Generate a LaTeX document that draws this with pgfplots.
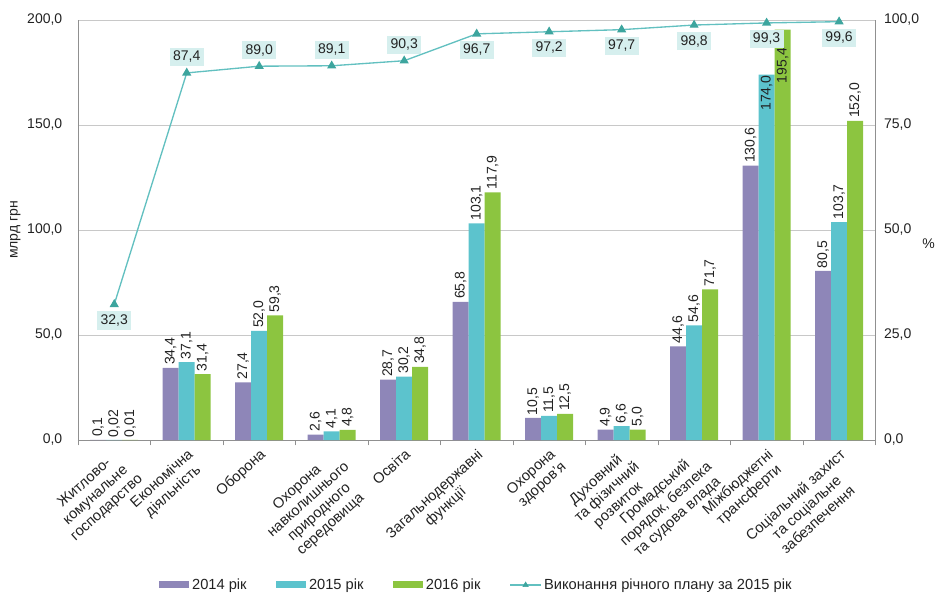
\documentclass[border=0pt]{standalone}
\usepackage{fontspec}
\setmainfont{Liberation Sans}
\usepackage{pgfplots}
\usepackage{pgfplotstable}
\pgfplotsset{compat=1.18}

\definecolor{cA}{HTML}{8E86B8}
\definecolor{cB}{HTML}{5CC3CD}
\definecolor{cC}{HTML}{8CC540}
\definecolor{cL}{HTML}{62C0C0}
\definecolor{cM}{HTML}{3DA59E}
\definecolor{cBox}{HTML}{D6EFEE}
\definecolor{gridc}{HTML}{C8C8C8}
\definecolor{axc}{HTML}{909090}
\definecolor{txt}{HTML}{222222}
\newcommand{\inl}[1]{\llap{#1\hspace{3pt}}}
\newcommand{\inlb}[1]{\llap{#1\hspace{16pt}}}

\pgfplotstableread{
x y lab
0 0.1 0,1
1 34.4 34,4
2 27.4 27,4
3 2.6 2,6
4 28.7 28,7
5 65.8 65,8
6 10.5 10,5
7 4.9 4,9
8 44.6 44,6
9 130.6 130,6
10 80.5 80,5
}\tA
\pgfplotstableread{
x y lab
0 0.02 0,02
1 37.1 37,1
2 52.0 52,0
3 4.1 4,1
4 30.2 30,2
5 103.1 103,1
6 11.5 11,5
7 6.6 6,6
8 54.6 54,6
9 174.0 \inl{174,0}
10 103.7 103,7
}\tB
\pgfplotstableread{
x y lab
0 0.01 0,01
1 31.4 31,4
2 59.3 59,3
3 4.8 4,8
4 34.8 34,8
5 117.9 117,9
6 12.5 12,5
7 5.0 5,0
8 71.7 71,7
9 195.4 \inlb{195,4}
10 152.0 152,0
}\tC
\pgfplotstableread{
x y
0 32.3
1 87.4
2 89.0
3 89.1
4 90.3
5 96.7
6 97.2
7 97.7
8 98.8
9 99.3
10 99.6
}\tL
\pgfplotstableread{
x y lab
1 87.4 87,4
2 89.0 89,0
3 89.1 89,1
4 90.3 90,3
}\tLup
\pgfplotstableread{
x y lab
0 32.3 32,3
5 96.7 96,7
6 97.2 97,2
7 97.7 97,7
8 98.8 98,8
9 99.3 99,3
10 99.6 99,6
}\tLdn

\pgfplotsset{
  common/.style={
    scale only axis, width=598pt, height=315pt,
    at={(0,0)}, anchor=south west,
    xmin=-0.5, xmax=10.5,
    tick label style={font=\fontsize{10.5}{12}\selectfont, text=txt},
    /pgf/number format/.cd, fixed, fixed zerofill, precision=1, use comma, assume math mode=true,
  },
  barlab/.style={
    point meta=explicit symbolic,
    nodes near coords,
    every node near coord/.append style={rotate=90, anchor=west, font=\fontsize{10.5}{12}\selectfont, text=txt, inner sep=2pt},
  },
  linelab/.style={
    draw=none, mark=none, forget plot,
    point meta=explicit symbolic, nodes near coords,
    every node near coord/.append style={anchor=#1, fill=cBox, inner sep=2.5pt, font=\fontsize{10.5}{12}\selectfont, text=txt},
  },
}

\begin{document}
\begin{tikzpicture}
\useasboundingbox (-58.5pt,-117pt) rectangle (645pt,330pt);
\begin{axis}[common,
  ybar=0pt, bar width=12pt,
  ymin=0, ymax=200, ytick={0,50,100,150,200},
  axis x line*=bottom, axis y line*=left,
  axis line style={axc},
  ymajorgrids, grid style={gridc},
  ytick style={draw=none},
  yticklabel style={xshift=-4pt},
  xtick={0,...,10}, xtick style={draw=none},
  minor xtick={-0.5,0.5,...,10.5},
  minor x tick style={draw=axc},
  minor tick length=4pt, tick align=outside,
  xticklabels={{Житлово-\\комунальне\\господарство},{Економічна\\діяльність},{Оборона},{Охорона\\навколишнього\\природного\\середовища},{Освіта},{Загальнодержавні\\функції},{Охорона\\здоров'я},{Духовний\\та фізичний\\розвиток},{Громадський\\порядок, безпека\\та судова влада},{Міжбюджетні\\трансферти},{Соціальний захист\\та соціальне\\забезпечення}},
  xticklabel style={rotate=42, anchor=north east, align=center, font=\fontsize{11}{12.5}\selectfont, inner sep=1pt},
  ylabel={млрд грн},
  ylabel style={at={(axis description cs:0,0.5)}, anchor=center, yshift=47pt, font=\fontsize{10.5}{12}\selectfont, text=txt},
  legend style={at={(0.5,-0.345)}, anchor=center, draw=none, legend columns=-1,
    font=\fontsize{11}{12}\selectfont, text=txt,
    /tikz/every even column/.append style={column sep=20pt}},
  legend image code/.code={\fill[#1] (0cm,-0.09cm) rectangle (0.8cm,0.09cm);},
]
\addplot[fill=cA, draw=none, barlab] table[x=x, y=y, meta=lab]{\tA};
\addlegendentry{2014 рік}
\addplot[fill=cB, draw=none, barlab] table[x=x, y=y, meta=lab]{\tB};
\addlegendentry{2015 рік}
\addplot[fill=cC, draw=none, barlab] table[x=x, y=y, meta=lab]{\tC};
\addlegendentry{2016 рік}
\addlegendimage{legend image code/.code={\draw[cL, line width=1pt] (0cm,0cm) -- (0.8cm,0cm); \fill[cM] (0.4cm,0cm) ++(0,2.2pt) -- ++(-2pt,-3.5pt) -- ++(4pt,0) -- cycle;}}
\addlegendentry{Виконання річного плану за 2015 рік}
\end{axis}

\begin{axis}[common,
  ymin=0, ymax=100, ytick={0,25,50,75,100},
  axis x line=none, axis y line*=right,
  axis line style={axc}, ytick style={draw=none},
  yticklabel style={xshift=3pt},
  ylabel={\%},
  ylabel style={at={(axis description cs:1,0.5)}, anchor=center, rotate=-90, xshift=40pt, yshift=-10pt, font=\fontsize{10.5}{12}\selectfont, text=txt},
]
\addplot[cL, line width=1pt, mark=triangle*, mark size=3pt, mark options={fill=cM, draw=cM}]
  table[x=x, y=y]{\tL};
\addplot[linelab=south, every node near coord/.append style={yshift=5pt}] table[x=x, y=y, meta=lab]{\tLup};
\addplot[linelab=north, every node near coord/.append style={yshift=-5pt}] table[x=x, y=y, meta=lab]{\tLdn};
\end{axis}
\end{tikzpicture}
\end{document}
